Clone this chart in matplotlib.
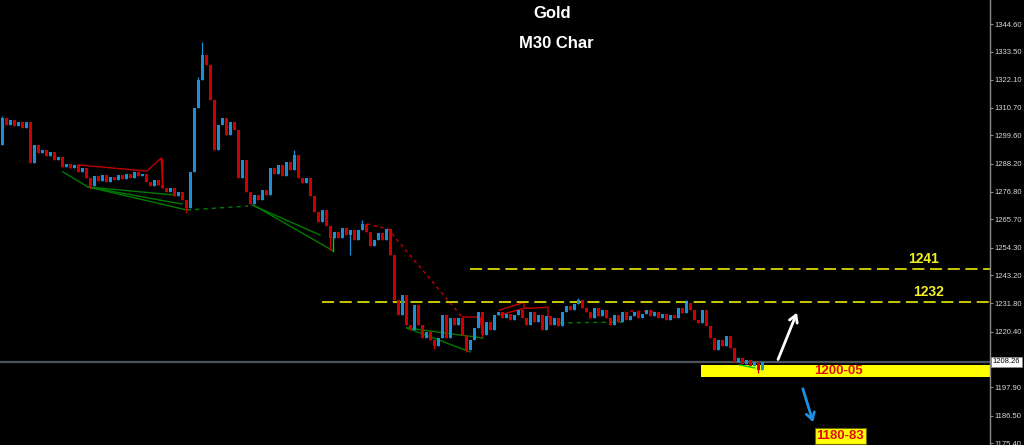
import matplotlib.pyplot as plt
from matplotlib.transforms import blended_transform_factory

# M30 gold bars, open of each bar = previous close
first_open = 1295.7
closes = [
    1306.7, 1303.8, 1305.8, 1303.4, 1305.0, 1302.6, 1305.0, 1288.5, 1295.7, 1292.5,
    1293.7, 1291.3, 1292.9, 1289.7, 1290.9, 1286.9, 1288.1, 1286.5, 1287.7, 1284.9,
    1286.5, 1282.4, 1279.2, 1283.2, 1281.2, 1283.6, 1280.8, 1282.8, 1281.6, 1283.6,
    1282.0, 1284.0, 1282.4, 1284.9, 1283.2, 1284.0, 1280.8, 1279.2, 1281.6, 1279.6,
    1278.4, 1276.8, 1278.4, 1275.2, 1276.8, 1273.5, 1270.3, 1284.9, 1310.7, 1322.0,
    1332.1, 1328.1, 1313.9, 1293.7, 1303.8, 1306.7, 1299.8, 1305.0, 1301.8, 1282.4,
    1289.7, 1276.8, 1271.9, 1275.6, 1273.5, 1277.6, 1275.6, 1286.5, 1284.0, 1287.7,
    1283.2, 1288.9, 1285.7, 1291.7, 1282.4, 1280.4, 1282.4, 1275.2, 1268.7, 1264.7,
    1269.5, 1263.0, 1258.2, 1260.6, 1258.2, 1262.2, 1259.4, 1261.4, 1257.4, 1261.4,
    1263.9, 1260.6, 1255.0, 1257.4, 1260.2, 1257.4, 1261.8, 1251.3, 1233.2, 1227.1,
    1235.2, 1223.1, 1221.0, 1231.1, 1223.1, 1217.8, 1220.2, 1217.0, 1214.6, 1217.8,
    1227.1, 1217.8, 1225.9, 1223.1, 1225.9, 1219.0, 1213.0, 1217.0, 1221.9, 1228.3,
    1219.0, 1224.3, 1221.0, 1227.1, 1228.3, 1225.9, 1227.5, 1225.1, 1227.1, 1229.1,
    1225.9, 1223.1, 1228.3, 1224.3, 1227.1, 1221.0, 1226.7, 1223.1, 1225.9, 1222.7,
    1228.3, 1230.7, 1229.1, 1231.5, 1233.2, 1229.9, 1228.3, 1225.9, 1229.9, 1226.7,
    1229.1, 1225.9, 1223.1, 1227.1, 1224.3, 1228.3, 1225.1, 1226.7, 1228.3, 1225.9,
    1227.5, 1229.1, 1226.7, 1228.3, 1225.9, 1227.5, 1225.1, 1227.1, 1225.9, 1229.9,
    1227.9, 1232.0, 1229.1, 1225.1, 1223.9, 1229.1, 1222.7, 1217.8, 1213.0, 1217.0,
    1214.6, 1218.6, 1213.8, 1208.1, 1209.7, 1207.3, 1208.9, 1206.5, 1208.1, 1204.9,
    1208.3,
]
# wicks that stick out past the bodies
spike_highs = {0: 1307.5, 40: 1290.5, 49: 1323.2, 50: 1337.3, 73: 1293.7,
               90: 1265.5, 144: 1234.0, 171: 1233.2}
spike_lows = {0: 1295.7, 22: 1278.0, 46: 1268.3, 82: 1253.4, 87: 1251.3,
              108: 1213.4, 116: 1212.2, 189: 1203.7}

last_price = 1208.26
tick_vals = [1344.60, 1333.50, 1322.10, 1310.70, 1299.60, 1288.20, 1276.80,
             1265.70, 1254.30, 1243.20, 1231.80, 1220.40, 1197.90, 1186.50, 1175.40]

# levels drawn by hand on the chart
res_hi = 1245.7
res_lo = 1232.2
support_box = (1202.1, 1206.9)
target_box = (1175.8, 1180.7)

# zigzag / channel lines (bar index, price)
red_solid = [
    ([19, 36.2, 39.8, 40.2], [1287.7, 1285.2, 1290.5, 1278.4]),
    ([115.2, 119.5, 120.2], [1226.3, 1226.3, 1218.2]),
    ([124.4, 130.5, 130.5], [1229.1, 1232.2, 1229.8]),
    ([124.4, 130.5, 136.5, 136.5], [1227.1, 1229.8, 1230.2, 1226.3]),
]
red_dashed = [
    ([91.2, 96.5, 115.2], [1263.9, 1261.8, 1225.9]),
    ([157, 163.8], [1228.7, 1228.3]),
]
green_solid = [
    ([15.2, 21.5], [1284.9, 1278.8]),
    ([21.5, 42.8], [1278.8, 1275.6]),
    ([21.5, 45.0], [1278.8, 1271.9]),
    ([21.5, 46.2], [1278.8, 1269.5]),
    ([62.5, 79.5], [1271.5, 1259.4]),
    ([62.8, 82.8], [1271.5, 1253.0]),
    ([101.2, 117.0], [1221.9, 1212.2]),
    ([101.2, 120.2], [1221.9, 1217.8]),
]
green_dashed = [
    ([46.2, 61.5], [1269.5, 1271.1]),
    ([139.5, 156.2], [1223.9, 1224.3]),
]
lime_lines = [
    ([82.8, 82.8], [1253.0, 1258.6]),
    ([184.5, 188.2], [1206.9, 1205.7]),
]

up_col = '#1f8fd4'
dn_col = '#cc0000'

fig = plt.figure(figsize=(10.24, 4.45), dpi=100, facecolor='black')
ax = fig.add_axes([0, 0, 990 / 1024, 1])
ax.set_facecolor('black')

opens = [first_open] + closes[:-1]
for i, (o, c) in enumerate(zip(opens, closes)):
    col = up_col if c >= o else dn_col
    hi = max(o, c, spike_highs.get(i, -1e9))
    lo = min(o, c, spike_lows.get(i, 1e9))
    ax.vlines(i, lo, hi, color=col, lw=0.9, zorder=3)
    h = max(abs(c - o), 0.4)
    ax.bar(i, h, bottom=min(o, c), width=0.75, color=col, lw=0, zorder=3)

for xs, ys in red_solid:
    ax.plot(xs, ys, color='#c00000', lw=1, zorder=2)
for xs, ys in red_dashed:
    ax.plot(xs, ys, color='#c00000', lw=1, ls=(0, (2.5, 2.5)), zorder=2)
for xs, ys in green_solid:
    ax.plot(xs, ys, color='#007a00', lw=1, zorder=2)
for xs, ys in green_dashed:
    ax.plot(xs, ys, color='#007a00', lw=1, ls=(0, (3, 3)), zorder=2)
for xs, ys in lime_lines:
    ax.plot(xs, ys, color='#00d000', lw=1, zorder=4)

# current price line
ax.axhline(last_price, color='#4c535a', lw=1.6, zorder=1)

# resistance levels
ax.hlines(res_hi, 117, 247, color='#c8c800', lw=1.4, ls=(0, (6.2, 2.9)), zorder=2)
ax.hlines(res_lo, 80, 247, color='#c8c800', lw=1.4, ls=(0, (6.2, 2.9)), zorder=2)
ax.text(230.5, res_hi + 1.3, '1241', color='#f0f020', fontsize=10, fontweight='bold',
        family='Liberation Sans', ha='center', va='bottom', zorder=5)
ax.text(231.5, res_lo + 1.3, '1232', color='#f0f020', fontsize=10, fontweight='bold',
        family='Liberation Sans', ha='center', va='bottom', zorder=5)

# support zone
ax.fill_between([174.75, 247], support_box[0], support_box[1], color='#ffff00',
                lw=0, zorder=2)
ax.text(209, sum(support_box) / 2, '1200-05', color='#e01010', fontsize=9.5,
        fontweight='bold', family='Liberation Sans', ha='center', va='center', zorder=5)

# target
ax.text(209.6, sum(target_box) / 2, '1180-83', color='#e01010', fontsize=9.5,
        fontweight='bold', family='Liberation Sans', ha='center', va='center', zorder=5,
        bbox=dict(boxstyle='square,pad=0.12', facecolor='#ffff00', edgecolor='#6a6a00', lw=0.8))

# arrows
ax.annotate('', xy=(199, 1229.1), xytext=(193.75, 1208.1),
            arrowprops=dict(arrowstyle='->,head_length=0.5,head_width=0.3',
                            color='white', lw=2), zorder=5)
ax.annotate('', xy=(203, 1182.7), xytext=(200, 1198.4),
            arrowprops=dict(arrowstyle='->,head_length=0.5,head_width=0.3',
                            color='#1e90e0', lw=2), zorder=5)

ax.set_xlim(-0.5, 247)
ax.set_ylim(1174.6, 1354.3)

for s in ['top', 'left', 'bottom']:
    ax.spines[s].set_visible(False)
ax.spines['right'].set_color('#8a8a8a')
ax.spines['right'].set_linewidth(1)
ax.set_xticks([])
ax.yaxis.tick_right()
ax.set_yticks(tick_vals)
ax.set_yticklabels(['%.2f' % v for v in tick_vals], family='Liberation Sans')
ax.tick_params(axis='y', colors='#8a8a8a', labelcolor='#d8d8d8', length=2.2,
               width=0.8, pad=1.2, labelsize=5.5)

tr = blended_transform_factory(ax.transAxes, ax.transData)
ax.text(1.0025, last_price, '%.2f' % last_price, transform=tr, color='black',
        fontsize=5.5, family='Liberation Sans', ha='left', va='center', clip_on=False,
        bbox=dict(boxstyle='square,pad=0.2', facecolor='white', edgecolor='#8a8a8a', lw=0.6))

fig.text(552 / 1024, 1 - 14 / 445, 'Gold', color='white', fontsize=12,
         fontweight='bold', family='Liberation Sans', ha='center', va='center')
fig.text(556 / 1024, 1 - 43 / 445, 'M30 Char', color='white', fontsize=12,
         fontweight='bold', family='Liberation Sans', ha='center', va='center')

fig.savefig('out.png', dpi=100, facecolor='black')
